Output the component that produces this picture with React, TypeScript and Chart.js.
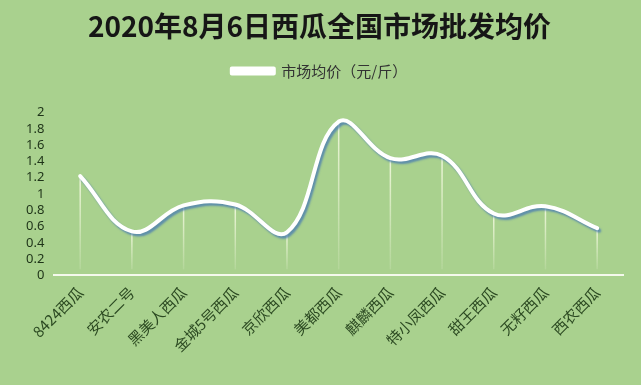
import React, { useEffect, useRef } from "react";
import { Chart, registerables } from "chart.js";

Chart.register(...registerables);

const categories = [
  "8424西瓜",
  "安农二号",
  "黑美人西瓜",
  "金城5号西瓜",
  "京欣西瓜",
  "美都西瓜",
  "麒麟西瓜",
  "特小凤西瓜",
  "甜王西瓜",
  "无籽西瓜",
  "西农西瓜",
];
const prices = [1.22, 0.54, 0.86, 0.87, 0.53, 1.89, 1.44, 1.47, 0.76, 0.85, 0.58];
const seriesName = "市场均价（元/斤）";
const titleText = "2020年8月6日西瓜全国市场批发均价";
const yMin = 0;
const yMax = 2;
const yStep = 0.2;

const BG = "#a9d18e";

const legendGapPlugin = {
  id: "legendGap",
  beforeInit(chart: any) {
    const orig = chart.legend.fit;
    chart.legend.fit = function () {
      orig.call(this);
      this.height += 24;
    };
  },
};

const dropLinesPlugin = {
  id: "dropLines",
  beforeDatasetsDraw(chart: any) {
    const meta = chart.getDatasetMeta(0);
    const yScale = chart.scales.y;
    const ctx = chart.ctx;
    const base = yScale.getPixelForValue(0) - 6;
    ctx.save();
    meta.data.forEach((pt: any) => {
      const g = ctx.createLinearGradient(0, pt.y, 0, base);
      g.addColorStop(0, "rgba(245,250,225,0.9)");
      g.addColorStop(1, "rgba(245,250,225,0.15)");
      ctx.strokeStyle = g;
      ctx.lineWidth = 1.5;
      ctx.beginPath();
      ctx.moveTo(pt.x, pt.y);
      ctx.lineTo(pt.x, base);
      ctx.stroke();
    });
    ctx.restore();
  },
  beforeDatasetDraw(chart: any) {
    const ctx = chart.ctx;
    ctx.save();
    ctx.shadowColor = "rgba(70,120,180,0.75)";
    ctx.shadowOffsetX = 2;
    ctx.shadowOffsetY = 2.5;
    ctx.shadowBlur = 2;
  },
  afterDatasetDraw(chart: any) {
    chart.ctx.restore();
  },
};

export default function App() {
  const ref = useRef<HTMLCanvasElement | null>(null);

  useEffect(() => {
    document.body.style.margin = "0";
    const canvas = ref.current;
    if (!canvas) return;
    const chart = new Chart(canvas, {
      type: "line",
      data: {
        labels: categories,
        datasets: [
          {
            label: seriesName,
            data: prices,
            borderColor: "#ffffff",
            backgroundColor: "#ffffff",
            borderWidth: 4,
            pointRadius: 0,
            tension: 0.4,
            borderCapStyle: "round",
            borderJoinStyle: "round",
          },
        ],
      },
      options: {
        animation: false,
        responsive: false,
        maintainAspectRatio: false,
        layout: { padding: { left: 16, right: 18, top: 4, bottom: 22 } },
        plugins: {
          title: {
            display: true,
            text: titleText,
            color: "#161616",
            font: { family: "'Noto Sans CJK SC', 'Noto Sans'", size: 28, weight: "bold" },
            padding: { top: 6, bottom: 8 },
          },
          legend: {
            display: true,
            labels: {
              color: "#333333",
              boxWidth: 42,
              boxHeight: 5,
              font: { family: "'Noto Sans CJK SC', 'Noto Sans'", size: 15 },
              padding: 12,
            },
          },
          tooltip: { enabled: false },
        },
        scales: {
          x: {
            offset: true,
            grid: { display: false, drawTicks: false },
            border: { display: true, color: "#f4f9ec", width: 2 },
            ticks: {
              minRotation: 45,
              maxRotation: 45,
              autoSkip: false,
              padding: 8,
              color: "#2c4a22",
              font: { family: "'Noto Sans CJK SC', 'Noto Sans'", size: 15 },
            },
          },
          y: {
            min: yMin,
            max: yMax,
            grid: { display: false, drawTicks: false },
            border: { display: false },
            ticks: {
              stepSize: yStep,
              autoSkip: false,
              padding: 10,
              color: "#1e3318",
              font: { family: "'Noto Sans', 'Noto Sans CJK SC'", size: 13, lineHeight: 1 },
              callback: (v: any) => String(+Number(v).toFixed(1)),
            },
          },
        },
      },
      plugins: [legendGapPlugin, dropLinesPlugin],
    });
    return () => chart.destroy();
  }, []);

  return (
    <div style={{ position: "fixed", left: 0, top: 0, width: 641, height: 385, background: BG }}>
      <canvas ref={ref} width={641} height={385} style={{ display: "block" }} />
    </div>
  );
}
